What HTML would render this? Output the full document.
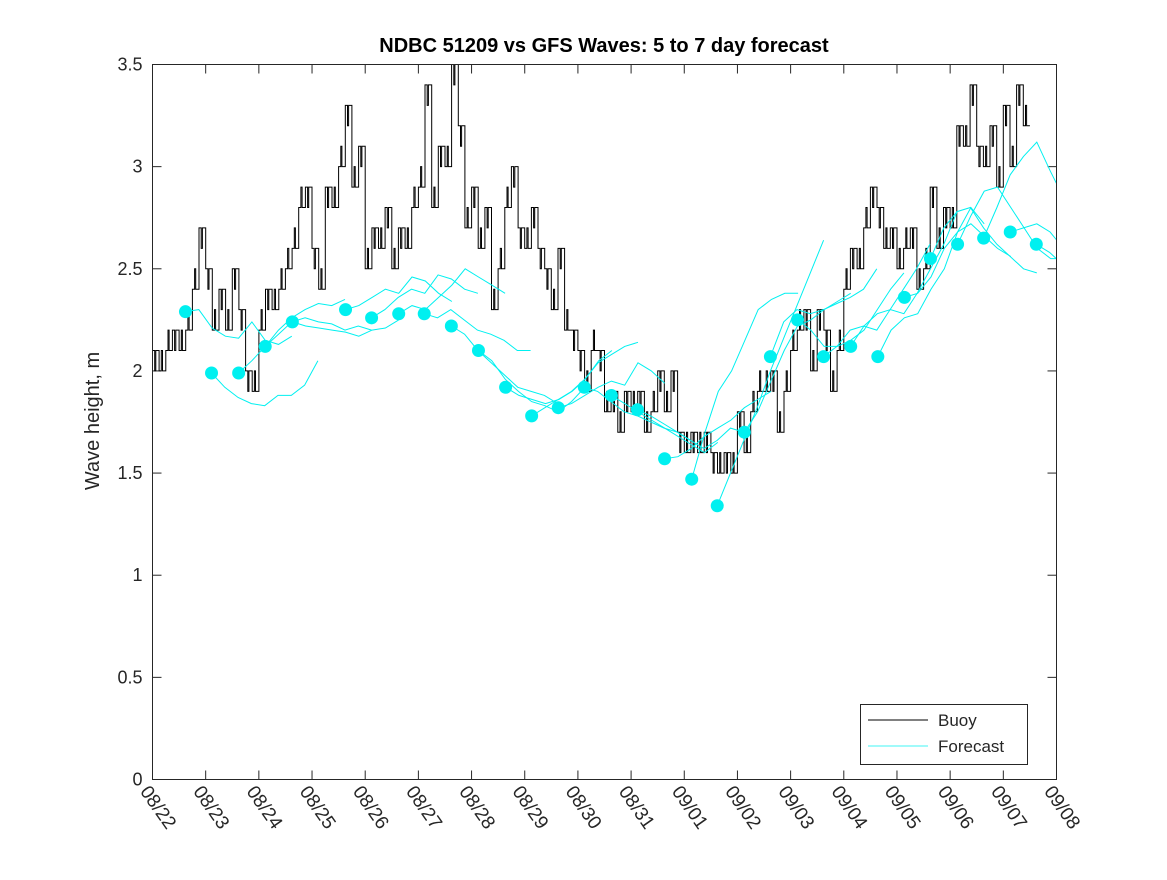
<!DOCTYPE html>
<html><head><meta charset="utf-8"><style>
body{margin:0;background:#fff}
svg{font-family:"Liberation Sans",sans-serif}
</style></head><body>
<svg id="chart" width="1167" height="875">
<rect width="1167" height="875" fill="#fff"/>
<text x="604" y="52" text-anchor="middle" font-size="20" font-weight="bold">NDBC 51209 vs GFS Waves: 5 to 7 day forecast</text>
<text transform="translate(99,421) rotate(-90)" text-anchor="middle" font-size="20" fill="#262626">Wave height, m</text>
<g id="axes"></g>
<g id="marks"></g>
<rect x="152.5" y="64.5" width="904" height="715" fill="none" stroke="#262626" stroke-width="1"/>
<g>
<rect x="860.5" y="704.5" width="167" height="60" fill="#fff" stroke="#262626"/>
<line x1="868" y1="720" x2="928" y2="720" stroke="#000"/>
<text x="938" y="726" font-size="17" fill="#262626">Buoy</text>
<line x1="868" y1="746" x2="928" y2="746" stroke="#00f0f0" stroke-width="0.8"/>
<text x="938" y="752" font-size="17" fill="#262626">Forecast</text>
</g>
</svg>
<script>
const xTickLabels=["08/22","08/23","08/24","08/25","08/26","08/27","08/28","08/29","08/30","08/31","09/01","09/02","09/03","09/04","09/05","09/06","09/07","09/08"];
const yTicks=[0,0.5,1,1.5,2,2.5,3,3.5];
const yTickLabels=["0","0.5","1","1.5","2","2.5","3","3.5"];
const buoyStepHours=3;
const buoyValues=[
2.1,2.0,2.1,2.2,2.1,2.2,2.4,2.7,
2.5,2.2,2.4,2.2,2.5,2.3,2.0,1.9,
2.2,2.4,2.3,2.4,2.5,2.6,2.8,2.9,
2.6,2.4,2.9,2.8,3.0,3.3,2.9,3.1,
2.5,2.7,2.6,2.8,2.5,2.7,2.6,2.8,
2.9,3.4,2.8,3.1,3.0,3.5,3.2,2.7,
2.9,2.6,2.8,2.3,2.5,2.8,3.0,2.7,
2.6,2.8,2.6,2.5,2.3,2.6,2.2,2.2,
2.1,1.9,2.1,2.1,1.8,1.9,1.7,1.9,
1.8,1.9,1.7,1.8,2.0,1.8,2.0,1.7,
1.6,1.7,1.6,1.7,1.6,1.5,1.6,1.5,
1.8,1.6,1.8,1.9,1.9,2.0,1.7,1.9,
2.1,2.2,2.3,2.0,2.3,2.2,1.9,2.1,
2.4,2.6,2.5,2.7,2.9,2.8,2.6,2.7,
2.5,2.6,2.7,2.4,2.5,2.9,2.6,2.8,
2.7,3.2,3.1,3.4,3.1,3.0,3.2,2.9,
3.3,3.0,3.4,3.2];
const forecastStartDays=[0.62,1.11,1.62,2.12,2.63,3.63,4.12,4.63,5.11,5.62,6.13,6.64,7.13,7.63,8.12,8.63,9.12,9.63,10.14,10.62,11.13,11.62,12.13,12.62,13.13,13.64,14.14,14.63,15.14,15.63,16.13,16.62];
const forecastStepHours=6;
const forecastValues=[
[2.29,2.30,2.21,2.17,2.16,2.24,2.15,2.13,2.17],
[1.99,1.92,1.87,1.84,1.83,1.88,1.88,1.93,2.05],
[1.99,2.05,2.12,2.20,2.26,2.30,2.33,2.32,2.35],
[2.12,2.18,2.24,2.26,2.24,2.23,2.20,2.22,2.20],
[2.24,2.22,2.21,2.20,2.19,2.17,2.20,2.21,2.25],
[2.30,2.32,2.36,2.40,2.38,2.46,2.44,2.38,2.34],
[2.26,2.30,2.36,2.40,2.38,2.47,2.45,2.40,2.38],
[2.28,2.32,2.30,2.36,2.42,2.50,2.46,2.42,2.38],
[2.28,2.26,2.30,2.25,2.20,2.18,2.15,2.10,2.10],
[2.22,2.18,2.10,2.04,1.98,1.92,1.90,1.88,1.84],
[2.10,2.05,1.96,1.90,1.85,1.83,1.80,1.85,1.92],
[1.92,1.88,1.86,1.84,1.86,1.90,1.96,2.05,2.10],
[1.78,1.82,1.86,1.90,1.96,2.04,2.08,2.12,2.14],
[1.82,1.84,1.88,1.92,1.95,1.93,2.04,2.00,1.94],
[1.92,1.90,1.85,1.80,1.78,1.75,1.72,1.70,1.66],
[1.88,1.84,1.80,1.76,1.72,1.68,1.64,1.60,1.65],
[1.81,1.78,1.74,1.70,1.66,1.62,1.66,1.72,1.70],
[1.57,1.58,1.62,1.68,1.72,1.76,1.82,1.86,1.90],
[1.47,1.70,1.90,2.00,2.15,2.30,2.35,2.38,2.38],
[1.34,1.50,1.66,1.82,2.00,2.16,2.32,2.48,2.64],
[1.70,1.80,1.95,2.10,2.22,2.25,2.30,2.34,2.38],
[2.07,2.24,2.30,2.28,2.30,2.33,2.36,2.40,2.50],
[2.25,2.20,2.12,2.12,2.15,2.20,2.30,2.40,2.48],
[2.07,2.12,2.20,2.22,2.20,2.30,2.40,2.50,2.62],
[2.12,2.22,2.28,2.30,2.28,2.38,2.50,2.62,2.78],
[2.07,2.20,2.26,2.28,2.40,2.50,2.68,2.80,2.72],
[2.36,2.38,2.46,2.60,2.68,2.72,2.66,2.60,2.56],
[2.55,2.70,2.78,2.80,2.70,2.62,2.56,2.50,2.48],
[2.62,2.76,2.88,2.90,2.80,2.70,2.60,2.55,2.55],
[2.65,2.80,2.96,3.05,3.12,2.98,2.85,2.75,2.65],
[2.68,2.70,2.72,2.68,2.60,2.55,2.50,2.48,2.47],
[2.62,2.58,2.52,2.47,2.45,2.45,2.45,2.45,2.45]];

const X0=152.5,X1=1056.5,Y0=779.5,Y1=64.5,NDAYS=17,YMAX=3.5;
function xs(d){return X0+(X1-X0)*d/NDAYS;}
function ys(v){return Y0-(Y0-Y1)*v/YMAX;}
const NS="http://www.w3.org/2000/svg";
function mk(tag,attrs,parent){const e=document.createElementNS(NS,tag);for(const k in attrs)e.setAttribute(k,attrs[k]);parent.appendChild(e);return e;}
const axes=document.getElementById('axes'),marks=document.getElementById('marks');
xTickLabels.forEach((lab,i)=>{
  const x=xs(i);
  const t1=mk('line',{x1:x,y1:Y0,x2:x,y2:Y0-9,stroke:'#262626'},axes);
  
  
  const t2=mk('line',{x1:x,y1:Y1,x2:x,y2:Y1+9,stroke:'#262626'},axes);
  
  
  const tx=mk('text',{x:0,y:0,'font-size':19,fill:'#262626',transform:`translate(${x-13},${Y0+12}) rotate(55)`},axes);
  tx.textContent=lab;
  
  
});
yTicks.forEach((v,i)=>{
  const y=ys(v);
  const a=mk('line',{x1:X0,y1:y,x2:X0+9,y2:y,stroke:'#262626'},axes);
  
  
  const b=mk('line',{x1:X1,y1:y,x2:X1-9,y2:y,stroke:'#262626'},axes);
  
  
  const t=mk('text',{x:X0-10,y:y+6,'text-anchor':'end','font-size':18,fill:'#262626'},axes);
  t.textContent=yTickLabels[i];
  
  
});
const clip=mk('clipPath',{id:'clip'},marks);
mk('rect',{x:X0,y:Y1,width:X1-X0,height:Y0-Y1},clip);
const g=mk('g',{'clip-path':'url(#clip)'},marks);
let d='';
buoyValues.forEach((v,i)=>{
  const x0=xs(i*buoyStepHours/24),x1=xs((i+1)*buoyStepHours/24),y=ys(v);
  d+=(i===0?'M':'L')+x0.toFixed(1)+','+y.toFixed(1)+' ';
  // within-step jitter: toggle 0.1 up/down like hourly readings
  const xm=(x0+x1)/2;
  const nxt=i+1<buoyValues.length?buoyValues[i+1]:v;
  const alt=nxt>=v?v+0.1:v-0.1;
  d+='L'+(x0+2.2).toFixed(1)+','+y.toFixed(1)+' L'+(x0+2.2).toFixed(1)+','+ys(alt).toFixed(1)+' L'+(xm).toFixed(1)+','+ys(alt).toFixed(1)+' L'+xm.toFixed(1)+','+y.toFixed(1)+' L'+x1.toFixed(1)+','+y.toFixed(1)+' ';
});
const bl=mk('path',{d:d,fill:'none',stroke:'#000','stroke-width':1},g);


forecastValues.forEach((vals,k)=>{
  const s=forecastStartDays[k];
  const pts=vals.map((v,i)=>xs(s+i*forecastStepHours/24).toFixed(1)+','+ys(v).toFixed(1)).join(' ');
  const l=mk('polyline',{points:pts,fill:'none',stroke:'#00f0f0','stroke-width':1},g);
  
  
});
forecastValues.forEach((vals,k)=>{
  const c=mk('circle',{cx:xs(forecastStartDays[k]),cy:ys(vals[0]),r:6.5,fill:'#00f0f0'},g);
  
  
});
</script>
</body></html>
